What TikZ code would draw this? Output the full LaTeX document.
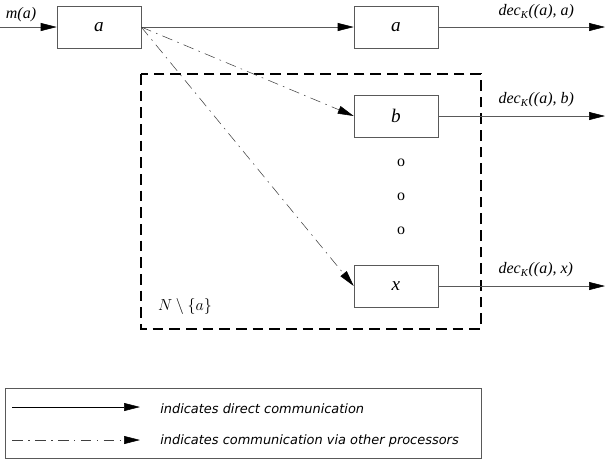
\documentclass[tikz,border=0pt]{standalone}
\usepackage{fontspec}
\setmainfont{Liberation Serif}
\newfontfamily\legendfont{DejaVu Sans}
\usetikzlibrary{arrows.meta}

\begin{document}
\begin{tikzpicture}[
        x=0.75pt, y=-0.75pt,
        proc/.style={rectangle, draw=black!65, minimum width=63pt, minimum height=31.5pt, inner sep=0pt, font=\itshape\Large},
        direct/.style={draw=black!65, -{Triangle[length=12pt, width=6pt, black]}},
        via/.style={draw=black!75, dash pattern=on 8pt off 4pt on 1.2pt off 4pt, -{Triangle[length=12pt, width=6pt, black]}},
        group/.style={draw, line width=1.6pt, dash pattern=on 8pt off 4.5pt},
        msg/.style={font=\itshape\large, inner sep=1pt},
        lgd/.style={font=\legendfont\itshape\fontsize{9.7}{12}\selectfont, anchor=west, inner sep=0pt}
    ]
    \useasboundingbox (0,0) rectangle (609,469);

    % PROCESSORS
    \node[proc] (src) at (99, 27) {a};
    \node[proc] (pa) at (396, 27) {a};
    \node[proc] (pb) at (396, 116) {b};
    \node[proc] (px) at (396, 286) {x};
    \foreach \y [count=\i] in {163, 197, 231}
        \node[font=\large] (gap\i) at (401, \y) {o};

    % GROUP N \ {a}
    \draw[group] (141, 74) rectangle (481, 329);
    \node[msg] (grp) at (185, 306) {$N\setminus\{a\}$};

    % INPUT AND OUTPUTS
    \coordinate (in) at (0, 27);
    \coordinate (outa) at (605, 27);
    \coordinate (outb) at (605, 116);
    \coordinate (outx) at (605, 286);
    \draw[direct] (in) -- (src.west);
    \node[msg] (ma) at (21, 15) {m(a)};
    \draw[direct] (src.east) -- (pa.west);
    \draw[direct] (pa.east) -- (outa);
    \draw[direct] (pb.east) -- (outb);
    \draw[direct] (px.east) -- (outx);
    \node[msg, anchor=west] (deca) at (497, 12) {dec\textsubscript{K}((a), a)};
    \node[msg, anchor=west] (decb) at (497, 100) {dec\textsubscript{K}((a), b)};
    \node[msg, anchor=west] (decx) at (497, 270) {dec\textsubscript{K}((a), x)};

    % Indirect edges
    \draw[via] (src.east) -- (pb.west);
    \draw[via] (src.east) -- (px.west);

    % LEGEND
    \draw[draw=black!65] (5, 388) rectangle (481, 458);
    \coordinate (l1s) at (12, 407);
    \coordinate (l1e) at (140, 407);
    \coordinate (l2s) at (12, 440);
    \coordinate (l2e) at (140, 440);
    \draw[direct, draw=black] (l1s) -- (l1e);
    \draw[via] (l2s) -- (l2e);
    \node[lgd] (t1) at (160, 409) {indicates direct communication};
    \node[lgd] (t2) at (160, 441) {indicates communication via other processors};
\end{tikzpicture}
\end{document}
